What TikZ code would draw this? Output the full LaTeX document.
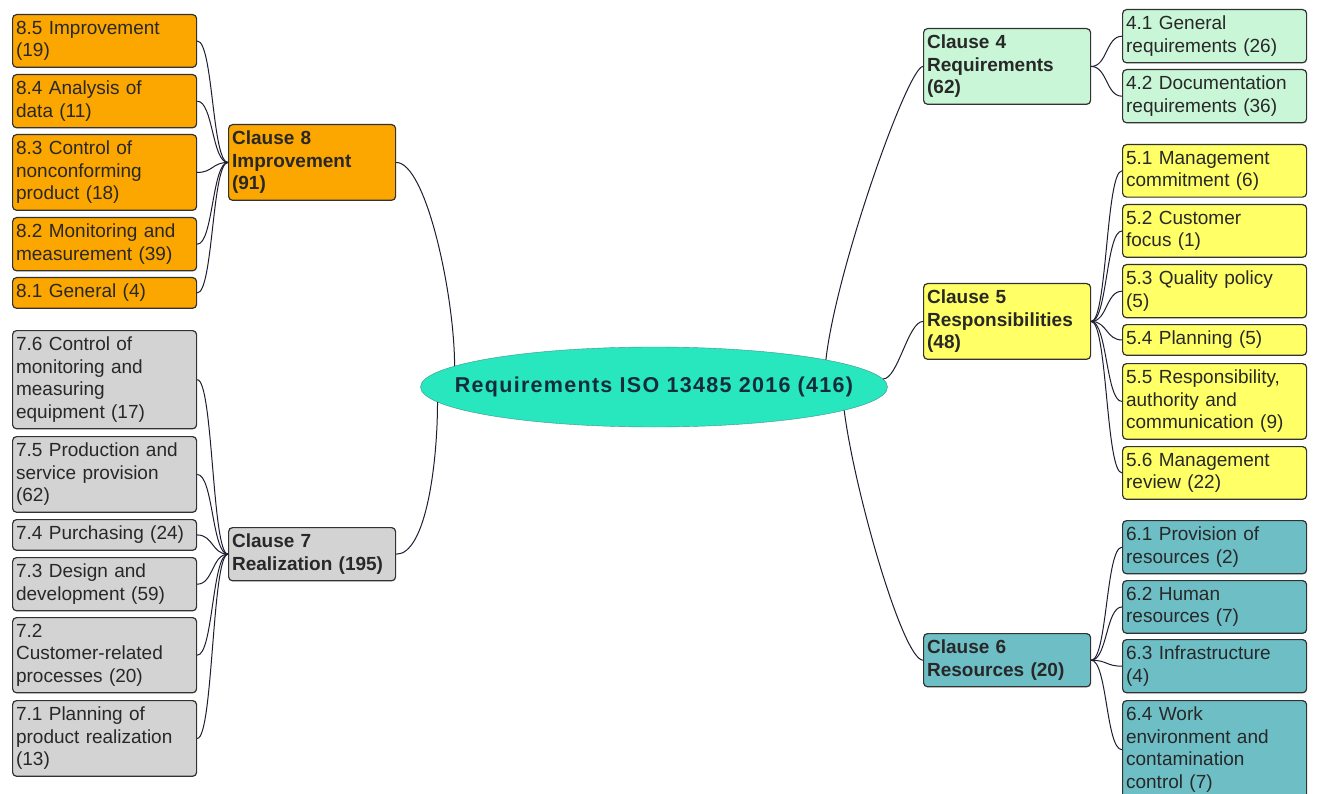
\documentclass[tikz,border=0pt]{standalone}
\usepackage{fontspec}
\setmainfont{Liberation Sans}
\newfontfamily\rootfont[LetterSpace=6]{Liberation Sans}
\usetikzlibrary{shapes.geometric}
\definecolor{orangecol}{RGB}{252,166,0}
\definecolor{graycol}{RGB}{211,211,211}
\definecolor{mintcol}{RGB}{200,246,214}
\definecolor{yellowcol}{RGB}{255,255,102}
\definecolor{tealcol}{RGB}{110,190,198}
\definecolor{rootcol}{RGB}{40,230,190}
\definecolor{rootedge}{RGB}{60,150,140}
\definecolor{roottext}{RGB}{20,45,60}
\definecolor{edgecol}{RGB}{50,50,50}
\definecolor{linkcol}{RGB}{30,30,50}
\definecolor{textcol}{RGB}{40,40,40}
\tikzset{
  box/.style={draw=edgecol, line width=1.2pt, rounded corners=4pt, align=left,
    anchor=north west, inner xsep=3.5pt, inner ysep=6.5pt, text=textcol,
    font=\fontsize{19}{22.5}\selectfont},
  leaf/.style={box, text width=177pt},
  clause/.style={box, text width=160pt, font=\fontsize{19}{22.5}\selectfont\bfseries},
  root/.style={ellipse, draw=rootedge, fill=rootcol, minimum width=467pt,
    minimum height=80pt, inner xsep=-80pt, inner ysep=0pt, text=roottext,
    font=\rootfont\bfseries\fontsize{21.5}{25}\selectfont},
  link/.style={draw=linkcol, line width=1pt},
}

\begin{document}
\begin{tikzpicture}[x=1pt,y=-1pt]
\useasboundingbox (0,0) rectangle (1317,794);
\fill[white] (0,0) rectangle (1317,794);
% centre
\node[root] (root) at (654,387) {Requirements ISO 13485 2016 (416)};
% clause 8, left top
\node[clause, fill=orangecol] (c8) at (228,124) {Clause 8\\Improvement\\(91)};
\node[leaf, fill=orangecol] (s85) at (12,14) {8.5 Improvement\\(19)};
\node[leaf, fill=orangecol] (s84) at (12,74) {8.4 Analysis of\\data (11)};
\node[leaf, fill=orangecol] (s83) at (12,134) {8.3 Control of\\nonconforming\\product (18)};
\node[leaf, fill=orangecol] (s82) at (12,217) {8.2 Monitoring and\\measurement (39)};
\node[leaf, fill=orangecol] (s81) at (12,277) {8.1 General (4)};
% clause 7, left bottom
\node[clause, fill=graycol] (c7) at (228,527) {Clause 7\\Realization (195)};
\node[leaf, fill=graycol] (s76) at (12,330) {7.6 Control of\\monitoring and\\measuring\\equipment (17)};
\node[leaf, fill=graycol] (s75) at (12,436) {7.5 Production and\\service provision\\(62)};
\node[leaf, fill=graycol] (s74) at (12,519) {7.4 Purchasing (24)};
\node[leaf, fill=graycol] (s73) at (12,557) {7.3 Design and\\development (59)};
\node[leaf, fill=graycol] (s72) at (12,617) {7.2\\Customer-related\\processes (20)};
\node[leaf, fill=graycol] (s71) at (12,700) {7.1 Planning of\\product realization\\(13)};
% clause 4, right top
\node[clause, fill=mintcol] (c4) at (923,28) {Clause 4\\Requirements\\(62)};
\node[leaf, fill=mintcol] (s41) at (1122,9) {4.1 General\\requirements (26)};
\node[leaf, fill=mintcol] (s42) at (1122,69) {4.2 Documentation\\requirements (36)};
% clause 5
\node[clause, fill=yellowcol] (c5) at (923,283) {Clause 5\\Responsibilities\\(48)};
\node[leaf, fill=yellowcol] (s51) at (1122,144) {5.1 Management\\commitment (6)};
\node[leaf, fill=yellowcol] (s52) at (1122,204) {5.2 Customer\\focus (1)};
\node[leaf, fill=yellowcol] (s53) at (1122,264) {5.3 Quality policy\\(5)};
\node[leaf, fill=yellowcol] (s54) at (1122,324) {5.4 Planning (5)};
\node[leaf, fill=yellowcol] (s55) at (1122,363) {5.5 Responsibility,\\authority and\\communication (9)};
\node[leaf, fill=yellowcol] (s56) at (1122,446) {5.6 Management\\review (22)};
% clause 6, right bottom
\node[clause, fill=tealcol] (c6) at (923,633) {Clause 6\\Resources (20)};
\node[leaf, fill=tealcol] (s61) at (1122,520) {6.1 Provision of\\resources (2)};
\node[leaf, fill=tealcol] (s62) at (1122,580) {6.2 Human\\resources (7)};
\node[leaf, fill=tealcol] (s63) at (1122,639) {6.3 Infrastructure\\(4)};
\node[leaf, fill=tealcol] (s64) at (1122,700) {6.4 Work\\environment and\\contamination\\control (7)};
% centre to clauses
\draw[link] (root.174) .. controls +(0,-70) and +(30,0) .. (c8.east);
\draw[link] (root.184) .. controls +(0,60) and +(30,0) .. (c7.east);
\draw[link] (root.9) .. controls +(10,-90) and +(-15,0) .. (c4.west);
\draw[link] (root.2) .. controls +(15,0) and +(-15,0) .. (c5.west);
\draw[link] (root.-7) .. controls +(10,80) and +(-20,0) .. (c6.west);
% clauses to sections
\foreach \s in {s85,s84,s83,s82,s81}
  \draw[link] (\s.east) .. controls +(16,0) and +(-16,0) .. (c8.west);
\foreach \s in {s76,s75,s74,s73,s72,s71}
  \draw[link] (\s.east) .. controls +(16,0) and +(-16,0) .. (c7.west);
\foreach \s in {s41,s42}
  \draw[link] (c4.east) .. controls +(16,0) and +(-16,0) .. (\s.west);
\foreach \s in {s51,s52,s53,s54,s55,s56}
  \draw[link] (c5.east) .. controls +(16,0) and +(-16,0) .. (\s.west);
\foreach \s in {s61,s62,s63,s64}
  \draw[link] (c6.east) .. controls +(16,0) and +(-16,0) .. (\s.west);
\end{tikzpicture}
\end{document}
